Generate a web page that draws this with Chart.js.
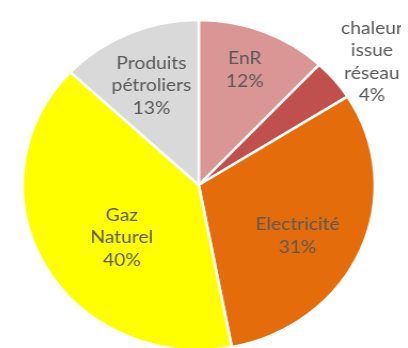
<!DOCTYPE html>
<html>
<head>
<meta charset="utf-8">
<script src="https://cdn.jsdelivr.net/npm/chart.js@4.4.1/dist/chart.umd.min.js"></script>
<style>
html,body{margin:0;padding:0;background:#fff;overflow:hidden;width:408px;height:348px;}
#wrap{position:absolute;left:-4px;top:0;width:380px;height:370px;transform:scaleX(1.067);transform-origin:0 0;}
canvas{display:block;}
</style>
</head>
<body>
<div id="wrap"><canvas id="c" width="380" height="370"></canvas></div>
<script>
const categories = ["EnR", "chaleur issue réseau", "Electricité", "Gaz Naturel", "Produits pétroliers"];
const shares = [12, 4, 31, 40, 13];
const labelLines = [["EnR"], ["chaleur", "issue", "réseau"], ["Electricité"], ["Gaz", "Naturel"], ["Produits", "pétroliers"]];
const colors = ["#d99694", "#c0504d", "#e46c0a", "#ffff00", "#d9d9d9"];

// label placement: fraction of radius and angular offset (degrees)
const labelFrac = [0.745, 1.235, 0.64, 0.54, 0.66];
const labelAngOff = [-1, 2.4, 5.3, -7.2, -0.6];

const labelPlugin = {
  id: 'pieLabels',
  afterDatasetsDraw(chart) {
    const ctx = chart.ctx;
    const meta = chart.getDatasetMeta(0);
    ctx.save();
    ctx.font = '18px Lato, "Open Sans", sans-serif';
    ctx.fillStyle = '#595959';
    ctx.textAlign = 'center';
    ctx.textBaseline = 'middle';
    meta.data.forEach((arc, i) => {
      const p = arc.getProps(['x', 'y', 'startAngle', 'endAngle', 'outerRadius'], true);
      const mid = (p.startAngle + p.endAngle) / 2 + labelAngOff[i] * Math.PI / 180;
      const r = p.outerRadius * labelFrac[i];
      const cx = p.x + Math.cos(mid) * r;
      const cy = p.y + Math.sin(mid) * r;
      const lines = labelLines[i].concat([shares[i] + '%']);
      const lh = 22.5;
      const y0 = cy - (lines.length - 1) * lh / 2;
      lines.forEach((t, k) => ctx.fillText(t, cx, y0 + k * lh));
    });
    ctx.restore();
  }
};

new Chart(document.getElementById('c'), {
  type: 'pie',
  data: {
    labels: categories,
    datasets: [{
      data: shares,
      backgroundColor: colors,
      borderColor: '#ffffff',
      borderWidth: 2.5,
      radius: 165
    }]
  },
  options: {
    responsive: false,
    animation: false,
    layout: { padding: 0 },
    plugins: { legend: { display: false }, tooltip: { enabled: false } }
  },
  plugins: [labelPlugin]
});
</script>
</body>
</html>
